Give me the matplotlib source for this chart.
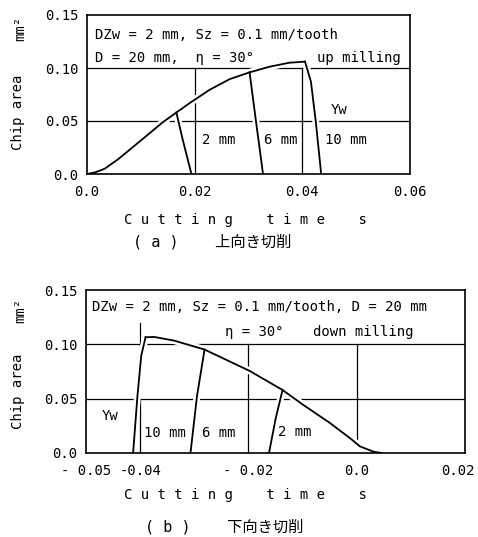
import matplotlib.pyplot as plt
from matplotlib.transforms import ScaledTranslation

plt.rcParams['font.family'] = ['DejaVu Sans Mono', 'Noto Sans CJK JP']

# --- (a) up milling: chip area vs cutting time ---
up_t = [0.0, 0.0015, 0.0033, 0.0058, 0.0089, 0.0120, 0.0140, 0.0166, 0.0191,
        0.0228, 0.0265, 0.0302, 0.0339, 0.0376, 0.0405]
up_a = [0.0, 0.0015, 0.0050, 0.0140, 0.0270, 0.0400, 0.0485, 0.0580, 0.0670,
        0.0795, 0.0895, 0.0959, 0.1012, 0.1050, 0.1060]
up_2mm_t = [0.0166, 0.0178, 0.0194]
up_2mm_a = [0.0580, 0.0320, 0.0]
up_6mm_t = [0.0302, 0.0314, 0.0327]
up_6mm_a = [0.0959, 0.0493, 0.0]
up_10mm_t = [0.0405, 0.0416, 0.0425, 0.0435]
up_10mm_a = [0.1060, 0.0870, 0.0493, 0.0]

# --- (b) down milling ---
down_t = [-0.0390, -0.0374, -0.0337, -0.0281, -0.0237, -0.0198, -0.0137,
          -0.0100, -0.0050, -0.0013, 0.0006, 0.0031, 0.0045]
down_a = [0.1065, 0.1068, 0.1034, 0.0952, 0.0848, 0.0756, 0.0580,
          0.0447, 0.0278, 0.0139, 0.0061, 0.0012, 0.0]
down_10mm_t = [-0.0413, -0.0405, -0.0398, -0.0390]
down_10mm_a = [0.0, 0.0524, 0.0895, 0.1065]
down_6mm_t = [-0.0307, -0.0295, -0.0281]
down_6mm_a = [0.0, 0.0524, 0.0952]
down_2mm_t = [-0.0162, -0.0150, -0.0137]
down_2mm_a = [0.0, 0.0310, 0.0580]

up_xticks = [0.0, 0.02, 0.04, 0.06]
up_xlabels = ["0.0", "0.02", "0.04", "0.06"]
down_xticks = [-0.05, -0.04, -0.02, 0.0, 0.02]
down_xlabels = ["- 0.05", "-0.04", "- 0.02", "0.0", "0.02"]
yticks = [0.0, 0.05, 0.10, 0.15]
ylabels = ["0.0", "0.05", "0.10", "0.15"]

# grid pieces: (x, ymin, ymax)
up_vgrid = [(0.02, 0.0, 0.10), (0.04, 0.0, 0.10)]
down_vgrid = [(-0.04, 0.0, 0.05), (-0.04, 0.087, 0.12),
              (-0.02, 0.0, 0.10), (0.0, 0.012, 0.10)]

fig = plt.figure(figsize=(4.78, 5.37), dpi=100)
W, H = 478, 537


def make_axes(l, t, r, b):
    return fig.add_axes([l / W, 1 - b / H, (r - l) / W, (b - t) / H])


def style(ax, xlim, xticks, xlabels, vgrid, curves):
    ax.set_xlim(*xlim)
    ax.set_ylim(0, 0.15)
    ax.set_xticks(xticks)
    ax.set_xticklabels(xlabels)
    ax.set_yticks(yticks)
    ax.set_yticklabels(ylabels)
    ax.tick_params(length=0, labelsize=10)
    ax.tick_params(axis="x", pad=8)
    ax.tick_params(axis="y", pad=6)
    for s in ax.spines.values():
        s.set_linewidth(1.2)
    for y in (0.05, 0.10):
        ax.axhline(y, color="black", lw=0.9, zorder=1)
    for x, y0, y1 in vgrid:
        ax.plot([x, x], [y0, y1], color="black", lw=0.9, zorder=1)
    # white halo first so the grid gets small gaps at crossings
    for t, a in curves:
        ax.plot(t, a, color="white", lw=5, zorder=1.5, solid_capstyle="butt")
    for t, a in curves:
        ax.plot(t, a, color="black", lw=1.3, zorder=2)


# --- (a) ---
ax1 = make_axes(87, 15, 410, 174)
style(ax1, (0, 0.06), up_xticks, up_xlabels, up_vgrid,
      [(up_2mm_t, up_2mm_a), (up_6mm_t, up_6mm_a),
       (up_10mm_t, up_10mm_a), (up_t, up_a)])
ax1.text(0.0015, 0.131, "DZw = 2 mm, Sz = 0.1 mm/tooth", fontsize=10, va="center")
ax1.text(0.0015, 0.109, "D = 20 mm,  η = 30°", fontsize=10, va="center")
ax1.text(0.0583, 0.109, "up milling", fontsize=10, va="center", ha="right")
ax1.text(0.0469, 0.0604, "Yw", fontsize=10, va="center", ha="center")
ax1.text(0.0245, 0.032, "2 mm", fontsize=10, va="center", ha="center")
ax1.text(0.0359, 0.032, "6 mm", fontsize=10, va="center", ha="center")
ax1.text(0.0481, 0.032, "10 mm", fontsize=10, va="center", ha="center")

# --- (b) ---
ax2 = make_axes(86, 290, 465, 453)
style(ax2, (-0.05, 0.02), down_xticks, down_xlabels, down_vgrid,
      [(down_2mm_t, down_2mm_a), (down_6mm_t, down_6mm_a),
       (down_10mm_t, down_10mm_a), (down_t, down_a)])
ax2.text(-0.0489, 0.1345, "DZw = 2 mm, Sz = 0.1 mm/tooth, D = 20 mm",
         fontsize=10, va="center")
ax2.text(-0.0244, 0.1114, "η = 30°", fontsize=10, va="center")
ax2.text(0.0104, 0.1114, "down milling", fontsize=10, va="center", ha="right")
ax2.text(-0.0455, 0.0336, "Yw", fontsize=10, va="center", ha="center")
ax2.text(-0.0355, 0.0188, "10 mm", fontsize=10, va="center", ha="center")
ax2.text(-0.0254, 0.0188, "6 mm", fontsize=10, va="center", ha="center")
ax2.text(-0.0115, 0.0197, "2 mm", fontsize=10, va="center", ha="center")

# last tick label sits a bit left so it stays inside the figure
last = ax2.get_xticklabels()[-1]
last.set_transform(last.get_transform()
                   + ScaledTranslation(-7 / 100, 0, fig.dpi_scale_trans))

# --- axis titles and captions ---
xlab = "C u t t i n g    t i m e    s"
for yl, ycap, yunit, ylab, cap, xcap in [
        (220, 242, 28, 112, "( a )    上向き切削", 133),
        (495, 527, 310, 391, "( b )    下向き切削", 145)]:
    fig.text(245 / W, 1 - yl / H, xlab, fontsize=10, ha="center", va="center")
    fig.text(xcap / W, 1 - ycap / H, cap, fontsize=11, ha="left", va="center")
    fig.text(18 / W, 1 - ylab / H, "Chip area", fontsize=10, rotation=90,
             ha="center", va="center")
    fig.text(20 / W, 1 - yunit / H, "mm²", fontsize=10, rotation=90,
             ha="center", va="center")

plt.savefig("out.png", dpi=100)
plt.close()
